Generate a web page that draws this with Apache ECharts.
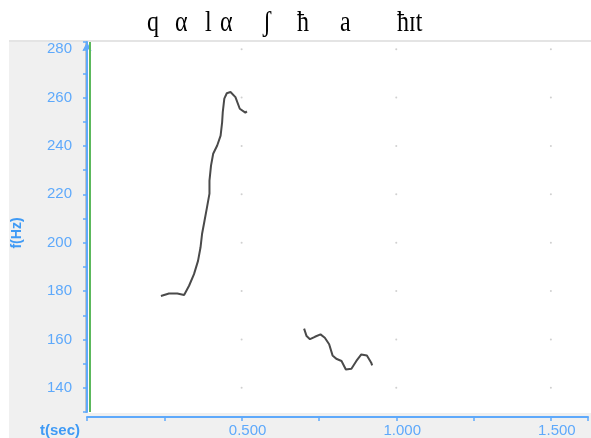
<!DOCTYPE html>
<html>
<head>
<meta charset="utf-8">
<script src="https://cdn.jsdelivr.net/npm/echarts@6/dist/echarts.min.js"></script>
<style>
  html, body { margin: 0; padding: 0; background: #fff; }
  #main { width: 591px; height: 438px; }
</style>
</head>
<body>
<div id="main"></div>
<script>
// pitch contour, two voiced stretches (t in sec, f in Hz)
const times1 = [0.239, 0.265, 0.292, 0.314, 0.330, 0.346, 0.359, 0.367, 0.372, 0.380, 0.388, 0.396, 0.396, 0.401, 0.408, 0.421, 0.432, 0.437, 0.439, 0.444, 0.452, 0.464, 0.480, 0.494, 0.512, 0.517];
const freqs1 = [178.0, 179.0, 179.0, 178.4, 182.2, 187.0, 192.5, 198.0, 203.6, 209.1, 214.6, 220.3, 225.7, 231.9, 236.8, 240.2, 244.3, 249.9, 254.0, 259.6, 261.8, 262.3, 260.2, 255.4, 253.8, 254.3];
const times2 = [0.702, 0.710, 0.721, 0.737, 0.755, 0.769, 0.783, 0.794, 0.806, 0.823, 0.837, 0.855, 0.871, 0.887, 0.905, 0.919, 0.922];
const freqs2 = [164.5, 161.4, 160.1, 161.1, 162.1, 160.7, 158.0, 153.4, 152.0, 151.1, 147.6, 147.9, 151.1, 153.8, 153.4, 150.4, 149.3];

// grid dots
const dotTimes = [0.5, 1.0, 1.5];
const dotFreqs = [140, 160, 180, 200, 220, 240, 260, 280];

// cursor
const cursorTimes = [0.008];

// transcription over the plot
const titleGlyphs = ['q', 'α', 'l', 'α', 'ʃ', 'ħ', 'a', 'ħɪt'];
const glyphLeft = [147, 175, 205, 220, 263, 297, 340, 397];

const blue = '#5ea9fb';
const blueDark = '#3f9af5';

const contour1 = times1.map((t, i) => [t, freqs1[i]]);
const contour2 = times2.map((t, i) => [t, freqs2[i]]);
const dots = [];
dotTimes.forEach(t => dotFreqs.forEach(f => dots.push([t, f])));

const chart = echarts.init(document.getElementById('main'));

const option = {
  animation: false,
  backgroundColor: '#fff',
  grid: { left: 87, right: 0, top: 42, bottom: 26 },
  graphic: [
    { type: 'rect', z: -10, silent: true, shape: { x: 9, y: 41, width: 582, height: 397 }, style: { fill: '#f0f0f0' } },
    { type: 'rect', z: -9, silent: true, shape: { x: 87, y: 42, width: 504, height: 371 }, style: { fill: '#fff' } },
    { type: 'line', z: -8, silent: true, shape: { x1: 9, y1: 41, x2: 591, y2: 41 }, style: { stroke: '#e4e4e4', lineWidth: 2 } },
    { type: 'line', z: -8, silent: true, shape: { x1: 86, y1: 42, x2: 86, y2: 413 }, style: { stroke: '#c4c4c4', lineWidth: 2 } },
  ].concat(titleGlyphs.map((g, i) => ({
    type: 'text',
    silent: true,
    x: glyphLeft[i],
    y: 23.6,
    scaleY: 1.2,
    style: { x: 0, y: 0, text: g, font: '24px "Liberation Serif"', fill: '#000', verticalAlign: 'middle', align: 'left' }
  }))),
  xAxis: {
    type: 'value',
    min: 0,
    max: 1.62,
    interval: 0.25,
    offset: 5,
    name: 't(sec)',
    nameLocation: 'start',
    nameGap: 7,
    nameTextStyle: { color: blueDark, fontWeight: 'bold', fontSize: 15, verticalAlign: 'top', padding: [6, 0, 0, 0], fontFamily: 'Liberation Sans' },
    axisLine: { lineStyle: { color: blue, width: 2 } },
    axisTick: { length: 4, lineStyle: { color: blue, width: 1.5 } },
    splitLine: { show: false },
    axisLabel: {
      color: blue,
      fontSize: 15,
      fontFamily: 'Liberation Sans',
      margin: 6,
      padding: [0, 0, 0, 12],
      formatter: v => (v > 0 && Math.abs(v / 0.5 - Math.round(v / 0.5)) < 1e-6) ? v.toFixed(3) : ''
    }
  },
  yAxis: {
    type: 'value',
    min: 130,
    max: 283,
    interval: 10,
    offset: 8,
    name: 'f(Hz)',
    nameLocation: 'middle',
    nameRotate: 90,
    nameGap: 55,
    nameTextStyle: { color: blueDark, fontWeight: 'bold', fontSize: 14, fontFamily: 'Liberation Sans', padding: [0, 0, 0, -12] },
    axisLine: { show: true, symbol: ['none', 'arrow'], symbolSize: [7, 9], lineStyle: { color: blue, width: 2 } },
    axisTick: { length: 4, lineStyle: { color: blue, width: 1.5 } },
    splitLine: { show: false },
    axisLabel: {
      color: blue,
      fontSize: 15,
      fontFamily: 'Liberation Sans',
      margin: 7,
      formatter: v => (v >= 140 && v % 20 === 0) ? String(v) : ''
    }
  },
  series: [
    {
      type: 'scatter',
      data: dots,
      symbolSize: 2,
      itemStyle: { color: '#c4c4c4' },
      silent: true,
      z: 1
    },
    {
      type: 'line',
      data: contour1,
      showSymbol: false,
      lineStyle: { color: '#4a4a4a', width: 2 },
      markLine: {
        silent: true,
        symbol: 'none',
        label: { show: false },
        lineStyle: { color: '#5cb85c', width: 2, type: 'solid' },
        data: cursorTimes.map(t => ({ xAxis: t }))
      }
    },
    {
      type: 'line',
      data: contour2,
      showSymbol: false,
      lineStyle: { color: '#4a4a4a', width: 2 }
    }
  ]
};

chart.setOption(option);
window.addEventListener('resize', () => chart.resize());
</script>
</body>
</html>
